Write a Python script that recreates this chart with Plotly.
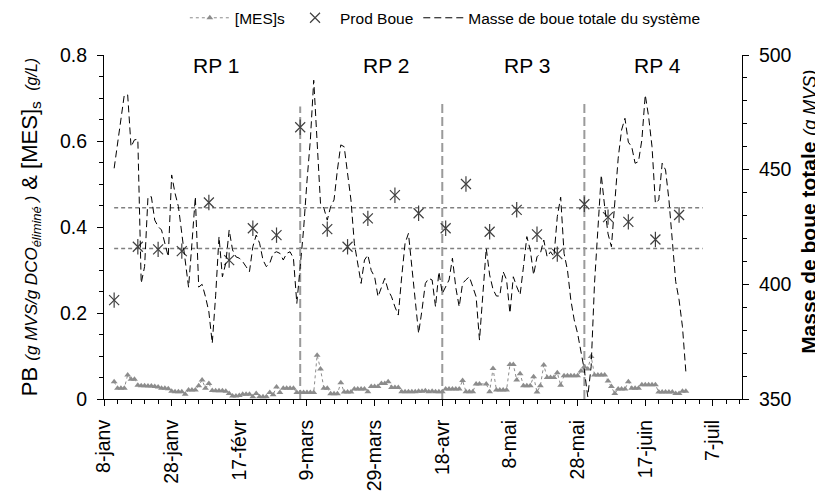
import plotly.graph_objects as go
import pandas as pd

start = pd.Timestamp("2007-01-08")

# ---------------- data (days counted from 8-janv) ----------------
mes_days = [3, 4, 5, 6, 7, 8, 9, 10, 11, 12, 13, 14, 15, 16, 17, 18, 19, 20, 21, 22, 23, 24, 25, 26, 27,
            28, 29, 30, 31, 32, 33, 34, 35, 36, 37, 38, 39, 40, 41, 42, 43, 44, 45, 46, 47, 48, 49, 50,
            51, 52, 53, 54, 55, 56, 57, 58, 59, 60, 61, 62, 63, 64, 65, 66, 67, 68, 69, 70, 71, 72, 73,
            74, 75, 76, 77, 78, 79, 80, 81, 82, 83, 84, 85, 86, 87, 88, 89, 90, 91, 92, 93, 94, 95, 96,
            97, 98, 99, 100, 101, 102, 103, 104, 105, 106, 107, 108, 109, 110, 111, 113, 114, 115, 116,
            117, 118, 119, 120, 121, 122, 123, 124, 125, 126, 127, 128, 129, 130, 131, 132, 133, 134,
            135, 136, 137, 138, 139, 140, 141, 142, 143, 144, 145, 146, 147, 148, 149, 150, 151, 152,
            153, 154, 155, 156, 157, 158, 159, 160, 161, 162, 163, 164, 165, 166, 167, 168, 169, 170,
            171, 172]
mes_values = [0.040, 0.025, 0.025, 0.025, 0.056, 0.046, 0.046, 0.032, 0.031, 0.031, 0.030, 0.030, 0.029,
              0.028, 0.025, 0.025, 0.024, 0.018, 0.017, 0.017, 0.017, 0.011, 0.021, 0.021, 0.021,
              0.031, 0.044, 0.025, 0.036, 0.020, 0.019, 0.019, 0.019, 0.018, 0.013, 0.007, 0.007, 0.008,
              0.011, 0.011, 0.011, 0.005, 0.013, 0.005, 0.005, 0.005, 0.015, 0.010,
              0.028, 0.015, 0.025, 0.025, 0.025, 0.025, 0.015, 0.015, 0.015, 0.015, 0.015, 0.015,
              0.102, 0.070, 0.025, 0.025, 0.012, 0.012, 0.012, 0.038, 0.016, 0.016, 0.016,
              0.023, 0.023, 0.023, 0.023, 0.017, 0.029, 0.029, 0.029, 0.036, 0.036, 0.040, 0.027, 0.027,
              0.027, 0.017, 0.017, 0.017, 0.017, 0.017, 0.018, 0.018, 0.019, 0.017, 0.018,
              0.017, 0.017, 0.017, 0.023, 0.023, 0.023, 0.023, 0.023, 0.043, 0.017, 0.017, 0.017,
              0.035, 0.035, 0.035, 0.017, 0.071, 0.021, 0.021,
              0.021, 0.021, 0.080, 0.080, 0.044, 0.059, 0.031, 0.031, 0.031, 0.052, 0.016, 0.031,
              0.079, 0.050, 0.050, 0.050, 0.061, 0.032,
              0.054, 0.054, 0.054, 0.054, 0.054, 0.065, 0.075, 0.070, 0.099, 0.056, 0.056, 0.056,
              0.056, 0.042, 0.029, 0.013, 0.023, 0.023,
              0.023, 0.040, 0.025, 0.025, 0.025, 0.033, 0.033, 0.033, 0.033, 0.033, 0.016, 0.016,
              0.016, 0.016, 0.016, 0.013, 0.013, 0.018,
              0.018, 0.018]

prod_days = [3, 10, 16, 23, 31, 37, 44, 51, 58, 66, 72, 78, 86, 93, 101, 107, 114, 122, 128, 134,
             142, 149, 155, 163, 170]
prod_values = [0.230, 0.354, 0.348, 0.344, 0.457, 0.323, 0.397, 0.381, 0.632, 0.395, 0.354, 0.420,
               0.474, 0.432, 0.397, 0.500, 0.389, 0.440, 0.383, 0.337, 0.453, 0.423, 0.412, 0.371, 0.428]

masse_days = [3, 6, 7, 8, 9, 10, 11, 12, 13, 14, 15, 16, 17, 18, 19, 20, 21, 22, 23, 24, 25, 26, 27, 28,
              29, 30, 31, 32, 33, 34, 35, 36, 37, 38, 39, 40, 41, 42, 43, 44, 45, 46, 47, 48, 49, 50,
              51, 52, 53, 54, 55, 56, 57, 58, 59, 60, 61, 62, 63, 64, 65, 66, 67, 68, 69, 70, 71, 72,
              73, 74, 75, 76, 77, 78, 79, 80, 81, 82, 83, 84, 85, 86, 87, 88, 89, 90, 91, 92, 93, 94,
              95, 96, 97, 98, 99, 100, 101, 102, 103, 104, 105, 106, 107, 108, 109, 110, 111, 112, 113,
              114, 115, 116, 117, 118, 119, 120, 121, 122, 123, 124, 125, 126, 127, 128, 129, 130,
              131, 132, 133, 134, 135, 136, 137, 138, 139, 140, 141, 142, 143, 144, 145, 146, 147,
              148, 149, 150, 151, 152, 153, 154, 155, 156, 157, 158, 159, 160, 161, 162, 163, 164,
              165, 166, 167, 168, 169, 170, 171, 172]
masse_values = [450.6, 482.6, 482.6, 460.0, 463.0, 463.3, 400.5, 407.7, 438.2, 438.2, 428.0, 425.2,
                423.7, 417.9, 412.0, 447.7, 439.7, 433.9, 422.2, 411.4, 398.7, 417.9, 438.2, 398.8,
                400.0, 394.6, 388.0, 374.3, 395.0, 420.8, 403.3, 409.2, 423.7, 415.0, 412.0, 411.4,
                409.9, 407.7, 405.5, 416.4, 421.5, 417.9, 410.6, 407.7, 409.2, 413.5,
                414.2, 413.5, 410.6, 413.5, 414.2, 411.4, 391.7, 407.7, 424.0, 445.0, 462.9, 489.0,
                462.9, 435.3, 433.2, 428.0, 433.9, 436.8, 449.9, 460.8, 460.0, 448.4,
                436.8, 417.9, 409.2, 400.4, 410.6, 412.8, 406.0, 403.3, 394.6, 398.3, 402.6, 397.5,
                394.6, 390.2, 386.6, 403.3, 417.9, 422.2, 407.7, 390.2, 378.6, 388.8,
                400.4, 402.6, 401.9, 390.2, 405.5, 396.0, 399.0, 401.9, 411.4, 398.6, 390.2, 400.4,
                402.0, 403.3, 399.0, 394.6, 375.7, 396.0, 415.7,
                404.1, 397.8, 394.9, 394.9, 405.5, 402.0, 387.4, 403.3, 399.0, 395.4, 407.7, 420.8,
                415.0, 404.1, 412.0, 413.5, 419.3,
                412.0, 414.2, 412.0, 429.5, 438.0, 413.5, 406.3, 393.2, 384.5, 378.6, 369.9, 362.6,
                351.0, 364.1, 400.4, 422.2, 447.7,
                433.9, 422.0, 416.4, 433.9, 455.0, 467.3, 472.4, 462.0, 460.0, 452.8, 453.5, 463.0,
                482.6, 473.1, 460.0, 435.3, 436.8,
                452.8, 449.9, 436.8, 417.9, 401.2, 393.2, 381.5, 361.9]

tick_days = [0, 20, 40, 60, 80, 100, 120, 140, 160, 180]
tick_labels = ["8-janv", "28-janv", "17-févr", "9-mars", "29-mars", "18-avr", "8-mai",
               "28-mai", "17-juin", "7-juil"]

phase_days = [58, 100, 142]          # RP boundaries
phase_tops = [0.68, 0.692, 0.692]
ref_levels = [0.445, 0.35]           # horizontal reference levels
ref_span_days = [3, 177]
rp_labels = ["RP 1", "RP 2", "RP 3", "RP 4"]
rp_days = [33, 83.5, 125, 163.5]
rp_level = 0.775

def to_dates(days):
    return [start + pd.Timedelta(days=d) for d in days]

FONT = "Liberation Sans, Arial, sans-serif"
TICK = 19.5

fig = go.Figure()

# horizontal reference lines
for lv in ref_levels:
    fig.add_trace(go.Scatter(x=to_dates(ref_span_days), y=[lv, lv], mode="lines",
                             line=dict(color="#808080", width=1.5, dash="4px,3px"),
                             showlegend=False, hoverinfo="skip"))
# vertical RP boundaries
for d, top in zip(phase_days, phase_tops):
    fig.add_trace(go.Scatter(x=to_dates([d, d]), y=[0, top], mode="lines",
                             line=dict(color="#9a9a9a", width=2, dash="9px,4px"),
                             showlegend=False, hoverinfo="skip"))

fig.add_trace(go.Scatter(x=to_dates(mes_days), y=mes_values, mode="lines+markers",
                         name="[MES]s",
                         line=dict(color="#8c8c8c", width=1, dash="dot"),
                         marker=dict(symbol="triangle-up", size=6, color="#8c8c8c")))

fig.add_trace(go.Scatter(x=to_dates(prod_days), y=prod_values, mode="markers",
                         name="Prod Boue",
                         marker=dict(symbol="x-thin-open", size=10, color="#404040",
                                     line=dict(color="#404040", width=1.2))))
fig.add_trace(go.Scatter(x=to_dates(prod_days), y=prod_values, mode="markers",
                         showlegend=False, hoverinfo="skip",
                         marker=dict(symbol="line-ns-open", size=11, color="#404040",
                                     line=dict(color="#404040", width=1.2))))

fig.add_trace(go.Scatter(x=to_dates(masse_days), y=masse_values, mode="lines",
                         name="Masse de boue totale du système", yaxis="y2",
                         line=dict(color="black", width=1, dash="7px,4px")))

for lab, d in zip(rp_labels, rp_days):
    fig.add_annotation(x=start + pd.Timedelta(days=d), y=rp_level, text=lab, showarrow=False,
                       font=dict(size=21, color="black", family=FONT))

left_title = ("PB <span style='font-size:17px'><i>(g MVS/g DCO</i></span>"
              "<sub><span style='font-size:13px'><i>éliminé</i></span></sub>"
              "<span style='font-size:17px'><i> )</i></span> & [MES]<sub>s</sub> "
              "<span style='font-size:16px'><i> (g/L)</i></span>")
right_title = ("<b>Masse de boue totale</b> <span style='font-size:18px'><i>(g MVS)</i></span>")

# right-hand axis title placed as a rotated annotation (sits slightly above centre)
fig.add_annotation(xref="paper", yref="paper", x=1.104, y=0.545, text=right_title,
                   textangle=-90, showarrow=False, xanchor="center", yanchor="middle",
                   font=dict(size=21, color="black", family=FONT))

# page body adds an 8px offset; figure sized to fit the window
fig.update_layout(
    width=815, height=484, autosize=False,
    margin=dict(l=96, r=81, t=47, b=93, autoexpand=False),
    plot_bgcolor="white", paper_bgcolor="white",
    font=dict(family=FONT, size=18, color="black"),
    showlegend=True,
    legend=dict(orientation="h", x=0.535, xanchor="center", y=1.107, yanchor="middle",
                font=dict(size=15.5, family=FONT), itemwidth=40, tracegroupgap=0,
                bgcolor="rgba(0,0,0,0)"),
    xaxis=dict(type="date",
               range=[start, start + pd.Timedelta(days=188.6)],
               tickvals=to_dates(tick_days), ticktext=tick_labels, tickangle=-90,
               showgrid=False, zeroline=False, showline=True, linecolor="black", linewidth=1,
               ticks="outside", ticklen=6, tickcolor="black", ticklabelstandoff=6,
               minor=dict(dtick=4 * 86400000, tick0=start, ticks="outside", ticklen=4,
                          tickcolor="black", showgrid=False),
               tickfont=dict(size=TICK)),
    yaxis=dict(range=[0, 0.8], tickvals=[0, 0.2, 0.4, 0.6, 0.8],
               ticktext=["0", "0.2", "0.4", "0.6", "0.8"],
               showgrid=False, zeroline=False, showline=True, linecolor="black", linewidth=1,
               ticks="outside", ticklen=6, tickcolor="black", ticklabelstandoff=6,
               minor=dict(dtick=0.05, ticks="outside", ticklen=4, tickcolor="black", showgrid=False),
               tickfont=dict(size=TICK),
               title=dict(text=left_title, font=dict(size=22), standoff=16)),
    yaxis2=dict(range=[350, 500], overlaying="y", side="right", dtick=50,
                showgrid=False, zeroline=False, showline=True, linecolor="black", linewidth=1,
                ticks="outside", ticklen=6, tickcolor="black", ticklabelstandoff=6,
                minor=dict(dtick=10, ticks="outside", ticklen=4, tickcolor="black", showgrid=False),
                tickfont=dict(size=TICK)),
)

fig.write_html("out.html")
